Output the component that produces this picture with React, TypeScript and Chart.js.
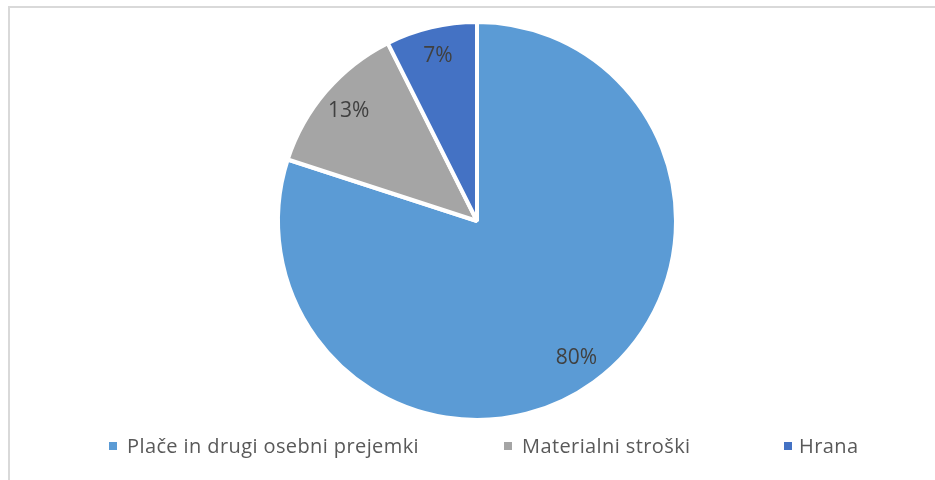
import React, { useEffect, useRef } from "react";
import { Chart, registerables } from "chart.js";

Chart.register(...registerables);

const categories = ["Plače in drugi osebni prejemki", "Materialni stroški", "Hrana"];
const values = [80.0, 12.6, 7.4];
const percentLabels = ["80%", "13%", "7%"];
const colors = ["#5B9BD5", "#A5A5A5", "#4472C4"];
const legendLefts = [109, 504, 784];

const FONT = "'Open Sans', 'Noto Sans', sans-serif";

const sliceLabels = {
  id: "sliceLabels",
  afterDatasetsDraw(chart: any) {
    const { ctx } = chart;
    const meta = chart.getDatasetMeta(0);
    ctx.save();
    ctx.font = `21px ${FONT}`;
    ctx.fillStyle = "#404040";
    ctx.textAlign = "center";
    ctx.textBaseline = "middle";
    meta.data.forEach((arc: any, i: number) => {
      const p = arc.getProps(["x", "y", "startAngle", "endAngle", "outerRadius"], true);
      const mid = (p.startAngle + p.endAngle) / 2;
      const r = p.outerRadius * 0.85;
      ctx.fillText(percentLabels[i], p.x + Math.cos(mid) * r, p.y + Math.sin(mid) * r);
    });
    ctx.restore();
  },
};

export default function App() {
  const ref = useRef<HTMLCanvasElement>(null);
  useEffect(() => {
    const chart = new Chart(ref.current!, {
      type: "pie",
      data: {
        labels: categories,
        datasets: [
          {
            data: values,
            backgroundColor: colors,
            borderColor: "#ffffff",
            borderWidth: 4,
          },
        ],
      },
      options: {
        responsive: false,
        animation: false,
        layout: { padding: { top: 20, bottom: 58, left: 19, right: 0 } },
        plugins: {
          legend: { display: false },
          tooltip: { enabled: false },
          title: { display: false },
        },
      },
      plugins: [sliceLabels],
    });
    return () => chart.destroy();
  }, []);

  return (
    <div style={{ position: "fixed", left: 0, top: 0, width: 935, height: 480, background: "#fff", overflow: "hidden" }}>
      <div
        style={{
          position: "absolute",
          left: 8,
          top: 6,
          width: 940,
          height: 480,
          borderLeft: "2px solid #d9d9d9",
          borderTop: "2px solid #d9d9d9",
          boxSizing: "border-box",
        }}
      />
      <canvas ref={ref} width={935} height={480} style={{ position: "absolute", left: 0, top: 0 }} />
      {categories.map((c, i) => (
        <div
          key={c}
          style={{
            position: "absolute",
            left: legendLefts[i],
            top: 432,
            height: 28,
            display: "flex",
            alignItems: "center",
            fontFamily: FONT,
            fontSize: 20,
            letterSpacing: "0.4px",
            color: "#595959",
            whiteSpace: "nowrap",
            lineHeight: "28px",
          }}
        >
          <span style={{ display: "inline-block", width: 8, height: 8, background: colors[i], marginRight: i === 2 ? 7 : 10 }} />
          <span>{c}</span>
        </div>
      ))}
    </div>
  );
}
